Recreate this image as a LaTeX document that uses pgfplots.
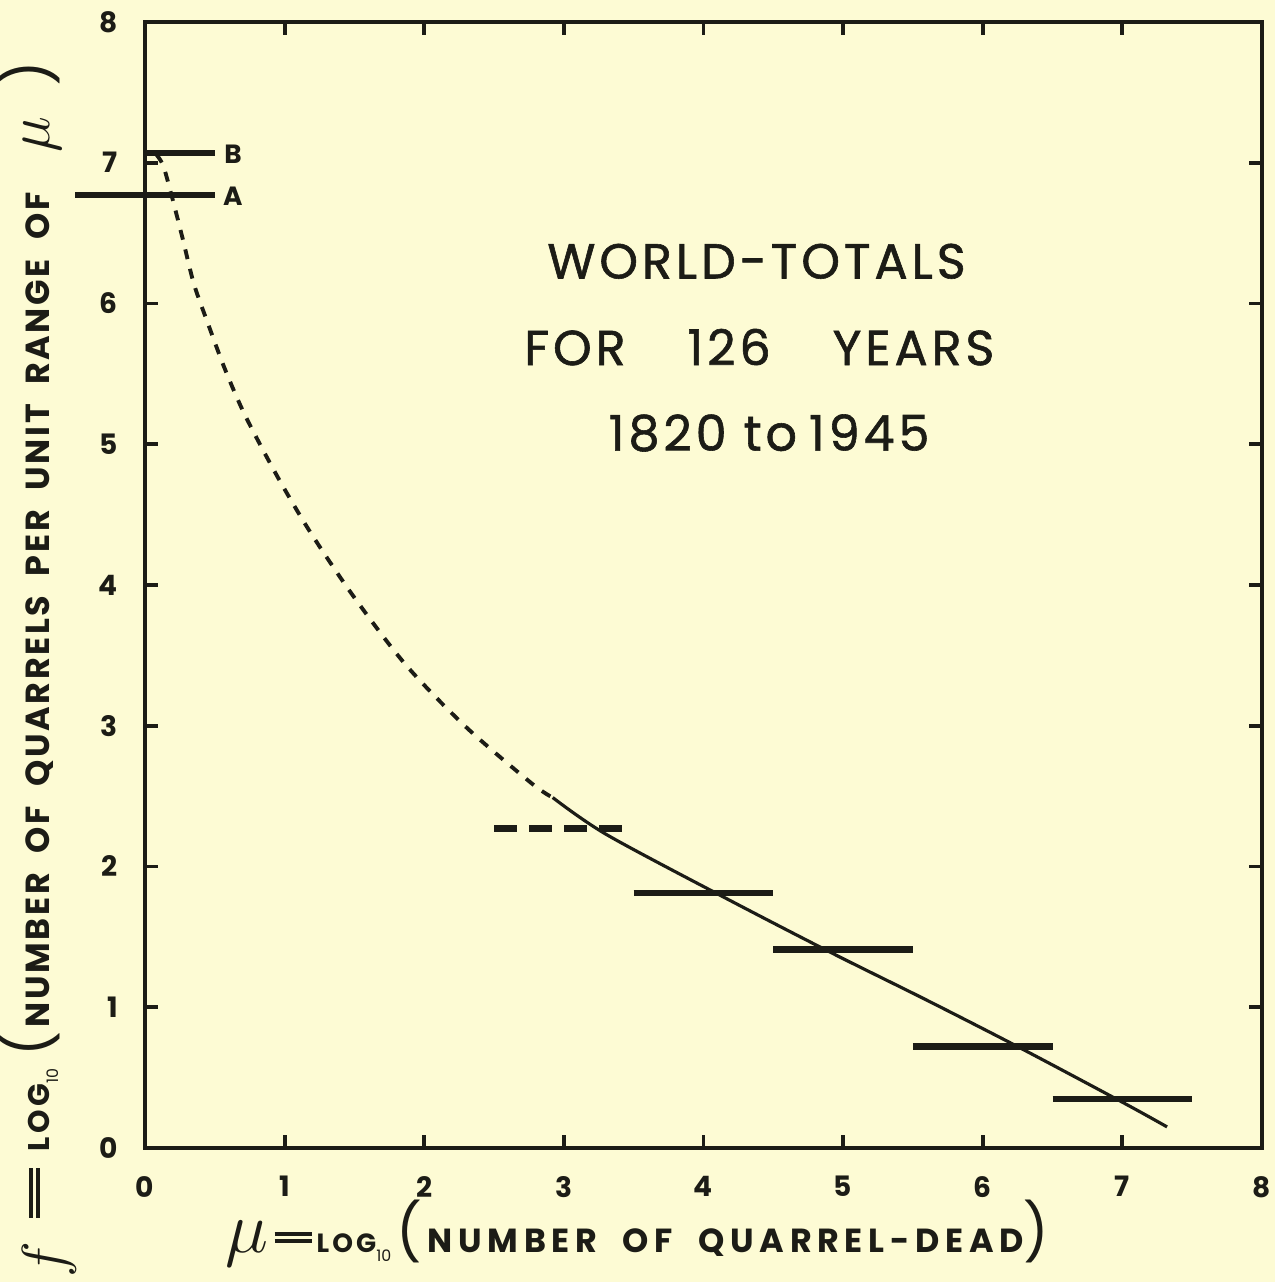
\documentclass[border=0pt]{standalone}
\usepackage{pgfplots}
\pgfplotsset{compat=1.18}
\usepackage{fontspec}
\setmainfont{Poppins}
\newfontfamily\logfont[LetterSpace=12]{Poppins}
\newfontfamily\xlabfont[LetterSpace=17]{Poppins}
\newfontfamily\ylabfont[LetterSpace=8]{Poppins}
\newfontfamily\titfont[LetterSpace=8,FakeBold=1.2]{Poppins}
\definecolor{bg}{RGB}{253,251,212}
\definecolor{ink}{RGB}{28,28,22}
\newcommand{\fateq}[1]{\raisebox{0.9mm}{\rule{#1}{0.42mm}}\kern-#1\raisebox{1.6mm}{\rule{#1}{0.42mm}}}
\begin{document}
\begin{tikzpicture}
\fill[bg] (-14.5mm,-13.4mm) rectangle (113mm,114.8mm);
\path[use as bounding box] (-14.5mm,-13.4mm) rectangle (113mm,114.8mm);
\begin{axis}[
  scale only axis, width=111.7mm, height=112.6mm,
  xmin=0, xmax=8, ymin=0, ymax=8,
  xtick={0,...,8}, ytick={0,...,8},
  tick align=inside, major tick length=1.3mm,
  axis line style={line width=1.3pt, draw=ink},
  tick style={line width=1.1pt, draw=ink},
  ticklabel style={font=\bfseries\fontsize{8}{9}\selectfont, text=ink},
  /pgf/number format/assume math mode=true,
  xticklabel style={yshift=-1.6mm},
  yticklabel style={xshift=-1.5mm},
  clip=false,
]
% dashed extrapolated curve
\addplot[ink, line width=1.1pt, dash pattern=on 1mm off 1mm, smooth] coordinates {
 (0.08,7.06) (0.13,6.98) (0.19,6.77) (0.27,6.46) (0.35,6.14) (0.45,5.86)
 (0.57,5.54) (0.70,5.24) (0.85,4.95) (1.0,4.68) (1.2,4.35) (1.5,3.91)
 (1.87,3.43) (2.3,2.99) (2.77,2.59) (2.92,2.49)};
% solid fitted curve
\addplot[ink, line width=0.9pt, smooth] coordinates {
 (2.92,2.49) (3.3,2.23) (4.13,1.79) (4.91,1.39) (5.6,1.05) (6.27,0.71) (7.01,0.32) (7.32,0.15)};
% observed class totals
\addplot[ink, line width=1.8pt] coordinates {(0,7.07) (0.5,7.07)};
\addplot[ink, line width=1.8pt] coordinates {(-0.5,6.77) (0.5,6.77)};
\addplot[ink, line width=1.8pt, dash pattern=on 2.3mm off 1.2mm] coordinates {(2.5,2.27) (3.5,2.27)};
\addplot[ink, line width=1.8pt] coordinates {(3.5,1.81) (4.5,1.81)};
\addplot[ink, line width=1.8pt] coordinates {(4.5,1.41) (5.5,1.41)};
\addplot[ink, line width=1.8pt] coordinates {(5.5,0.72) (6.5,0.72)};
\addplot[ink, line width=1.8pt] coordinates {(6.5,0.35) (7.5,0.35)};
% labels A, B
\node[text=ink, font=\bfseries\fontsize{7.5}{8}\selectfont] at (axis cs:0.63,7.06) {B};
\node[text=ink, font=\bfseries\fontsize{7.5}{8}\selectfont] at (axis cs:0.63,6.76) {A};
% title block
\node[text=ink, font=\titfont\fontsize{14}{16}\selectfont] at (axis cs:4.38,6.30) {WORLD-TOTALS};
\node[text=ink, font=\titfont\fontsize{14}{16}\selectfont] at (axis cs:4.40,5.69) {FOR\hspace{6.2mm}126\hspace{6.2mm}YEARS};
\node[text=ink, font=\titfont\fontsize{14}{16}\selectfont] at (axis cs:4.47,5.08) {1820 to\hspace{1.2mm}1945};
% x axis label
\node[text=ink, anchor=base west, inner sep=0pt] at ([yshift=-10.4mm]axis description cs:0.0716,0)
 {{\fontsize{22}{22}\selectfont$\mu$}\hspace{0.6mm}\fateq{3.7mm}\hspace{0.5mm}{\logfont\bfseries\fontsize{7.5}{9}\selectfont LOG}\raisebox{-0.5ex}{\fontsize{4.5}{5}\selectfont 10}\hspace{0.5mm}{\fontsize{16}{16}\selectfont (}\hspace{0.6mm}{\xlabfont\bfseries\fontsize{9.5}{10}\selectfont NUMBER\ \ OF\ \ QUARREL-DEAD}{\fontsize{16}{16}\selectfont )}};
% y axis label
\node[text=ink, anchor=base west, rotate=90, inner sep=0pt] at ([xshift=-9.6mm]axis description cs:0,-0.1155)
 {\raisebox{-1.6mm}{\fontsize{18}{18}\selectfont$f$}\hspace{2.4mm}\fateq{5mm}\hspace{1.6mm}{\logfont\bfseries\fontsize{8.5}{9}\selectfont LOG}\raisebox{-0.5ex}{\fontsize{4.5}{5}\selectfont 10}\hspace{1.2mm}{\fontsize{16}{16}\selectfont (}\hspace{0.4mm}{\ylabfont\bfseries\fontsize{9.5}{10}\selectfont NUMBER\ \ OF\ \ QUARRELS\ \ PER\ \ UNIT\ \ RANGE\ \ OF}\hspace{4mm}{\fontsize{18}{18}\selectfont$\mu$}\hspace{3mm}{\fontsize{16}{16}\selectfont )}};
\end{axis}
\end{tikzpicture}
\end{document}
